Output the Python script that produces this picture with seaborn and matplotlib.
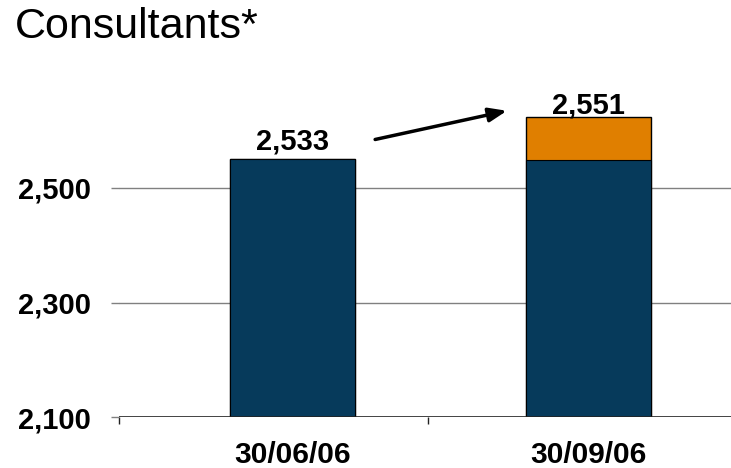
import matplotlib
matplotlib.use("Agg")
import matplotlib.pyplot as plt
import seaborn as sns
import pandas as pd

# Data
categories = ["30/06/06", "30/09/06"]
base_values = [2550, 2548]        # dark navy part (bar height as drawn)
increment_values = [0, 76]        # orange top part
label_texts = ["2,533", "2,551"]
y_ticks = [2100, 2300, 2500]
y_tick_labels = ["2,100", "2,300", "2,500"]
title = "Consultants*"

navy = "#063A5B"
orange = "#E07F00"

sns.set_theme(style="white")
plt.rcParams["font.family"] = ["Liberation Sans", "DejaVu Sans"]
plt.rcParams["text.color"] = "black"
plt.rcParams["xtick.labelcolor"] = "black"
plt.rcParams["ytick.labelcolor"] = "black"

df = pd.DataFrame({
    "date": categories,
    "base": base_values,
    "total": [b + i for b, i in zip(base_values, increment_values)],
})

W, H = 731, 468
fig = plt.figure(figsize=(W / 100, H / 100), dpi=100)
ax_left, ax_bottom = 119 / W, 1 - 417.3 / H
ax_top = 1 - 80 / H
ax = fig.add_axes([ax_left, ax_bottom, 1.0 - ax_left, ax_top - ax_bottom])

# Orange (total) drawn first, then navy base over it -> stacked look
sns.barplot(data=df, x="date", y="total", color=orange, width=0.42,
            edgecolor="black", linewidth=1.0, saturation=1, ax=ax, zorder=2)
sns.barplot(data=df, x="date", y="base", color=navy, width=0.42,
            edgecolor="black", linewidth=0.8, saturation=1, ax=ax, zorder=3)

ylim_top = 2100 + (417.3 - 80) / 114.8 * 200
ax.set_ylim(2100, ylim_top)
ax.set_xlim(-0.586, 1 + (731 - 588.7) / 296)

# gridlines
for yv in y_ticks[1:]:
    ax.axhline(yv, color="#808080", linewidth=1.0, zorder=1)
ax.axhline(y_ticks[0], color="#222222", linewidth=1.2, zorder=4)

for s in ["left", "right", "top", "bottom"]:
    ax.spines[s].set_visible(False)

ax.set_yticks(y_ticks)
ax.set_yticklabels(y_tick_labels, fontsize=21, fontweight="bold", color="black")
ax.tick_params(axis="y", which="major", length=6, width=1, color="#808080",
               pad=14, left=True, direction="out")
ax.tick_params(axis="x", which="major", length=0, pad=17,
               labelsize=21.5, labelcolor="black")
for lbl in ax.get_xticklabels():
    lbl.set_fontweight("bold")
ax.set_xticks([-0.586, 0.458], minor=True)
ax.tick_params(axis="x", which="minor", length=5, width=1, color="#222222",
               bottom=True, direction="out")
ax.set_xlabel("")
ax.set_ylabel("")

# value labels
offsets = [7, 2.5]
for i, (txt, tot, off) in enumerate(zip(label_texts, df["total"], offsets)):
    ax.annotate(txt, xy=(i, tot), xytext=(0, off), textcoords="offset points",
                ha="center", va="baseline", fontsize=21, fontweight="bold",
                color="black", zorder=5)

# arrow between the bars
ax.annotate("", xy=(0.724, 2634), xytext=(0.279, 2584),
            arrowprops=dict(arrowstyle="-|>,head_length=0.9,head_width=0.35",
                            color="black", lw=2.5, shrinkA=0, shrinkB=0))

fig.text(15 / W, 1 - 38.3 / H, title, fontsize=31, ha="left",
         va="baseline", color="black")

fig.savefig("out.png", dpi=100)
